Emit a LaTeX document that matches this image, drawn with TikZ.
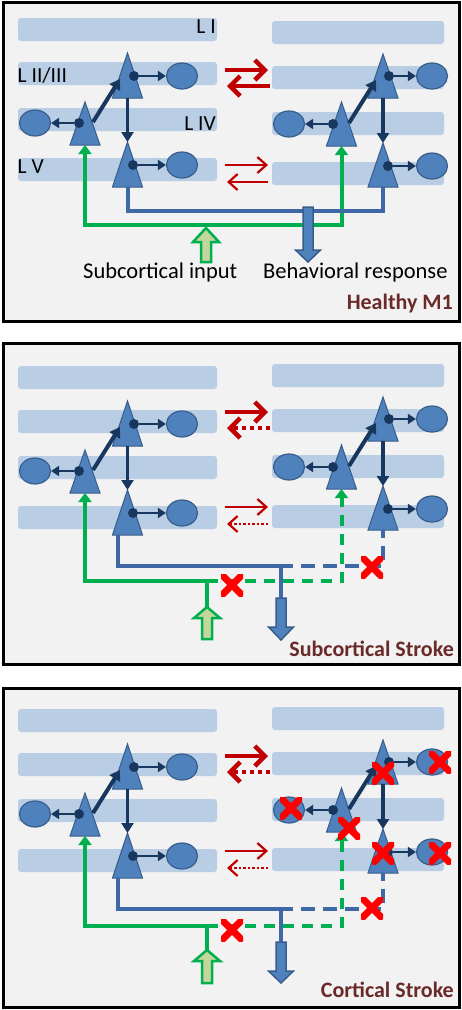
\documentclass[tikz,border=0pt]{standalone}
\usepackage{fontspec}
\setmainfont{Carlito}
\usetikzlibrary{arrows.meta,shapes.geometric}
\definecolor{panelbg}{HTML}{F2F2F2}
\definecolor{bandcol}{HTML}{B9CDE5}
\definecolor{triblue}{HTML}{4F81BD}
\definecolor{triedge}{HTML}{385D8A}
\definecolor{navy}{HTML}{17375E}
\definecolor{conblue}{HTML}{3F69A6}
\definecolor{sgreen}{HTML}{00B050}
\definecolor{lgreen}{HTML}{C3D69B}
\definecolor{dred}{HTML}{C00000}
\definecolor{xred}{HTML}{FF0000}
\definecolor{titlered}{HTML}{6B2A2A}
\tikzset{
  panelbox/.style={fill=panelbg, draw=black, line width=3pt},
  bandbox/.style={fill=bandcol, rounded corners=3pt},
  trishape/.style={fill=triblue, draw=triedge, line width=1pt, line join=miter},
  cell/.style={ellipse, fill=triblue, draw=triedge, line width=1.2pt, minimum width=31pt, minimum height=26pt, inner sep=0pt},
  somadot/.style={circle, fill=navy, minimum size=10pt, inner sep=0pt},
  smallarrow/.style={navy, line width=2pt, -{Triangle[length=8pt,width=10pt]}},
  bigarrow/.style={navy, line width=4pt, -{Triangle[length=10pt,width=12pt]}},
  vertarrow/.style={navy, line width=3.5pt, -{Triangle[length=10pt,width=12pt]}},
  gline/.style={sgreen, line width=4pt, >={Triangle[length=9pt,width=13pt]}},
  bline/.style={conblue, line width=4pt},
  gdash/.style={dash pattern=on 11pt off 8pt},
  bdash/.style={dash pattern=on 14pt off 8pt, dash phase=14pt},
  gblock/.style={fill=lgreen, draw=sgreen, line width=2.5pt, line join=miter},
  bblock/.style={fill=triblue, draw=triedge, line width=1.5pt, line join=miter},
  redthick/.style={dred, line width=4.5pt, -{Straight Barb[length=10pt,width=20pt]}},
  redthin/.style={dred, line width=2.2pt, -{Straight Barb[length=9pt,width=16pt]}},
  dotthick/.style={dash pattern=on 4.5pt off 3.5pt},
  dotthin/.style={dash pattern=on 2.5pt off 2pt},
  xmark/.style={rectangle, minimum size=22pt, inner sep=0pt,
    path picture={\draw[xred, line width=7pt]
      (path picture bounding box.north west) -- (path picture bounding box.south east)
      (path picture bounding box.north east) -- (path picture bounding box.south west);}},
  lbl/.style={font=\fontsize{21.5}{24}\selectfont, inner sep=0pt},
  lbltwo/.style={font=\fontsize{22.5}{26}\selectfont, inner sep=0pt},
  titletext/.style={font=\fontsize{22}{26}\selectfont\bfseries, text=titlered, inner sep=0pt}
}
\newcommand\mytri[4]{%
  \coordinate (#1-apex) at (#2,#3);
  \coordinate (#1-bl) at ({#2-15},#4);
  \coordinate (#1-br) at ({#2+15},#4);
  \coordinate (#1-base) at (#2,#4);
  \filldraw[trishape] (#1-apex) -- (#1-br) -- (#1-bl) -- cycle;}
\newcommand\leftcolumn[2]{%
\begin{scope}[shift={(0,#2)}, name prefix=#1-]
  \foreach \t in {18,62,108,158}{\path[bandbox] (18,\t) rectangle (217,{\t+23});}
  \mytri{A}{85}{102}{145}
  \mytri{B}{127.5}{53}{98}
  \mytri{C}{127.5}{142}{187}
  \node[cell] (A-cell) at (35,123) {};
  \node[cell] (B-cell) at (182,76) {};
  \node[cell] (C-cell) at (182,165) {};
  \node[somadot] (A-dot) at (79,123) {};
  \node[somadot] (B-dot) at (134,76) {};
  \node[somadot] (C-dot) at (133,165) {};
  \draw[smallarrow] (A-dot) -- (A-cell);
  \draw[smallarrow] (B-dot) -- (B-cell);
  \draw[smallarrow] (C-dot) -- (C-cell);
  \coordinate (A-out) at (93,122);
  \coordinate (B-in) at (120,79);
  \draw[bigarrow] (A-out) -- (B-in);
  \draw[vertarrow] (B-base) -- (C-apex);
\end{scope}}
\newcommand\rightcolumn[2]{%
\begin{scope}[shift={(0,#2)}, name prefix=#1-]
  \foreach \t in {21,66,112,162}{\path[bandbox] (272,\t) rectangle (444,{\t+23});}
  \mytri{A}{341.5}{102}{146}
  \mytri{B}{383}{54}{98}
  \mytri{C}{383}{143}{187}
  \node[cell] (A-cell) at (289,124) {};
  \node[cell] (B-cell) at (432,76) {};
  \node[cell] (C-cell) at (432,166) {};
  \node[somadot] (A-dot) at (333,124) {};
  \node[somadot] (B-dot) at (389,76) {};
  \node[somadot] (C-dot) at (388,166) {};
  \draw[smallarrow] (A-dot) -- (A-cell);
  \draw[smallarrow] (B-dot) -- (B-cell);
  \draw[smallarrow] (C-dot) -- (C-cell);
  \coordinate (A-out) at (349,123);
  \coordinate (B-in) at (376,80);
  \draw[bigarrow] (A-out) -- (B-in);
  \draw[vertarrow] (B-base) -- (C-apex);
\end{scope}}
\newcommand\redpairs[4]{%
\begin{scope}[shift={(0,#2)}, name prefix=#1-]
  \coordinate (t1) at (225,70); \coordinate (t2) at (268,70);
  \coordinate (t3) at (270,86); \coordinate (t4) at (227,86);
  \coordinate (v1) at (225,165); \coordinate (v2) at (268,165);
  \coordinate (v3) at (268,182); \coordinate (v4) at (227,182);
  \draw[redthick] (t1) -- (t2);
  \draw[redthick,#3] (t3) -- (t4);
  \draw[redthin] (v1) -- (v2);
  \draw[redthin,#4] (v3) -- (v4);
\end{scope}}
\newcommand\greenblock[5]{%
  \coordinate (#1) at (#2,#3);
  \filldraw[gblock] (#1) -- ({#2+13},#4) -- ({#2+5},#4) -- ({#2+5},#5) -- ({#2-5},#5) -- ({#2-5},#4) -- ({#2-13},#4) -- cycle;}
\newcommand\blueblock[5]{%
  \coordinate (#1) at (#2,#3);
  \filldraw[bblock] ({#2-5},#3) -- ({#2+5},#3) -- ({#2+5},#4) -- ({#2+12.5},#4) -- (#2,#5) -- ({#2-12.5},#4) -- ({#2-5},#4) -- cycle;}
\newcommand\mycross[3]{\node[xmark] (#1) at (#2,#3) {};}
\begin{document}
\begin{tikzpicture}[x=1pt,y=-1pt]
\useasboundingbox (0,0) rectangle (462,1010);
% panels
\path[panelbox] (3,2.5) rectangle (459,321.5);
\path[panelbox] (3,343) rectangle (459,664);
\path[panelbox] (3,688) rectangle (459,1007.5);

% ---------- Panel 1: Healthy M1 ----------
\leftcolumn{P1L}{0}
\rightcolumn{P1R}{0}
\redpairs{P1A}{0}{}{}
\node[lbl, anchor=base east] (lI) at (216,33) {L I};
\node[lbl, anchor=base west] (lII) at (17.5,82) {L II/III};
\node[lbl, anchor=base east] (lIV) at (216,130) {L IV};
\node[lbl, anchor=base west] (lV) at (17.5,173) {L V};
\coordinate (P1-gc) at (214,225);
\draw[gline,<->] (P1L-A-base) |- (P1-gc) -| (P1R-A-base);
\coordinate (P1-bc) at (250,211);
\draw[bline] (P1L-C-base) |- (P1-bc) -| (P1R-C-base);
\greenblock{P1-gin}{206}{228}{242}{262}
\blueblock{P1-fat}{308}{207}{250}{262}
\node[lbltwo, anchor=base west] (sin) at (83,278) {Subcortical input};
\node[lbltwo, anchor=base west] (bre) at (263,278) {Behavioral response};
\node[titletext, anchor=base east] (t1) at (453,309) {Healthy M1};

% ---------- Panel 2: Subcortical Stroke ----------
\leftcolumn{P2L}{348}
\rightcolumn{P2R}{343}
\redpairs{P2A}{342}{dotthick}{dotthin}
\coordinate (P2-gj) at (207,581);
\greenblock{P2-gin}{207}{607}{618}{639}
\draw[gline,<-] (P2L-A-base) |- (P2-gj) -- (P2-gin);
\draw[gline,gdash,->] (P2-gj) -| (P2R-A-base);
\coordinate (P2-bstart) at ([xshift=-9.5pt]P2L-C-base);
\coordinate (P2-bs) at (293,566);
\coordinate (P2-bj) at (281,566);
\draw[bline] (P2-bstart) |- (P2-bs);
\draw[bline,bdash] (P2-bs) -| (P2R-C-base);
\blueblock{P2-fat}{281}{598}{627}{640}
\draw[bline] (P2-bj) -- (P2-fat);
\mycross{P2-x1}{232}{585}
\mycross{P2-x2}{372}{567}
\node[titletext, anchor=base east] (t2) at (454,656) {Subcortical Stroke};

% ---------- Panel 3: Cortical Stroke ----------
\leftcolumn{P3L}{691}
\rightcolumn{P3R}{686}
\redpairs{P3A}{686}{dotthick}{dotthin}
\coordinate (P3-gj) at (207,926);
\greenblock{P3-gin}{207}{950}{961}{983}
\draw[gline,<-] (P3L-A-base) |- (P3-gj) -- (P3-gin);
\draw[gline,gdash,->] (P3-gj) -| (P3R-A-base);
\coordinate (P3-bstart) at ([xshift=-9.5pt]P3L-C-base);
\coordinate (P3-bs) at (293,909);
\coordinate (P3-bj) at (281,909);
\draw[bline] (P3-bstart) |- (P3-bs);
\draw[bline,bdash] (P3-bs) -| (P3R-C-base);
\blueblock{P3-fat}{281}{942}{971}{983}
\draw[bline] (P3-bj) -- (P3-fat);
\mycross{P3-x1}{232}{930}
\mycross{P3-x2}{372}{908}
\mycross{P3-x3}{291}{808}
\mycross{P3-x4}{349}{828}
\mycross{P3-x5}{383}{773}
\mycross{P3-x6}{440}{762}
\mycross{P3-x7}{383}{853}
\mycross{P3-x8}{440}{853}
\node[titletext, anchor=base east] (t3) at (454,997) {Cortical Stroke};
\end{tikzpicture}
\end{document}
